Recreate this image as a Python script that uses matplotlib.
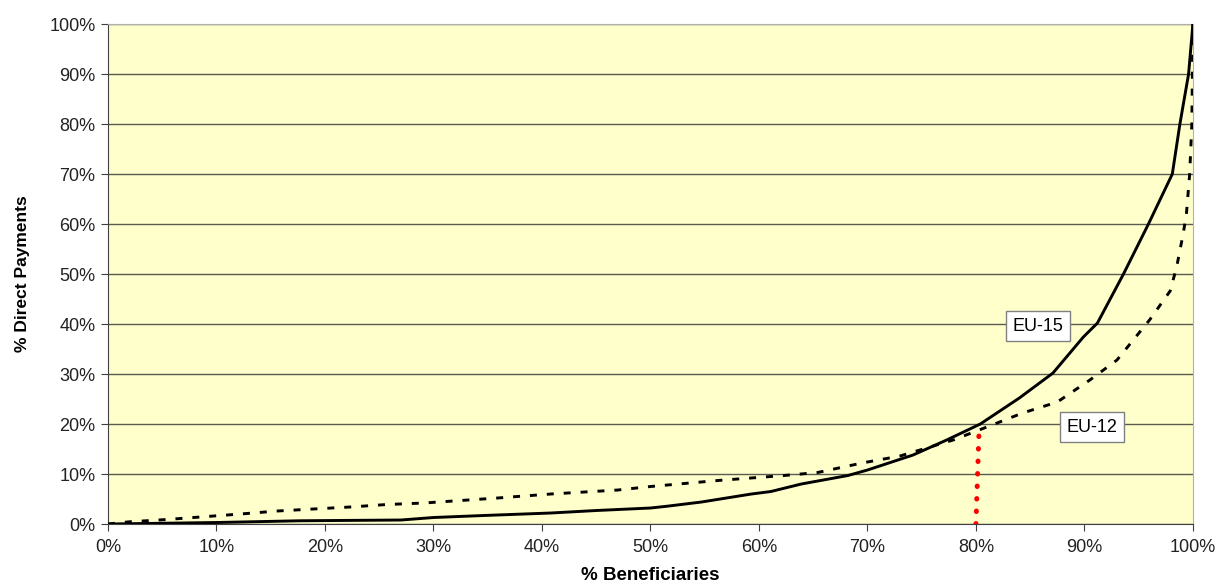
import matplotlib.pyplot as plt
from matplotlib.ticker import PercentFormatter

# EU-15 concentration curve (% beneficiaries vs % direct payments)
eu15_x = [0, 10, 17.7, 27, 30, 34.6, 40.8, 45, 50, 51.5, 54.7, 59.3, 61.1, 63.9, 68.2,
          70, 74.2, 77.3, 80.4, 84, 87.1, 89.9, 91.2, 93.6, 95.9, 98.1, 98.8, 99.6, 100]
eu15_y = [0, 0.3, 0.65, 0.8, 1.3, 1.7, 2.2, 2.7, 3.2, 3.55, 4.4, 6.0, 6.5, 8.0, 9.7,
          10.8, 13.8, 16.8, 20, 25.2, 30.2, 37.4, 40.2, 50, 60, 70, 80, 90, 100]

# EU-12 concentration curve
eu12_x = [0, 2, 5.4, 8.8, 12.2, 15.6, 18.9, 22.3, 25.7, 29.1, 32.5, 35.9, 37.7, 40.8,
          47, 50, 56.2, 62.3, 65.4, 69.5, 73, 77.9, 81, 84.3, 87.5, 90.5, 93, 96, 97.9,
          98.5, 99.1, 99.4, 99.7, 99.9, 100]
eu12_y = [0, 0.45, 0.9, 1.45, 2, 2.6, 3, 3.4, 3.9, 4.2, 4.7, 5.2, 5.5, 6, 6.8, 7.5,
          8.7, 9.7, 10.3, 12.2, 13.6, 16.8, 19.4, 22.2, 24.4, 28.8, 32.8, 40.8, 46.6,
          51.4, 58, 62, 70, 80, 100]

# red marker: 80% of beneficiaries
marker_x = [80, 80.3]
marker_y = [0, 19.5]

plt.rcParams['font.family'] = ['Liberation Sans', 'DejaVu Sans']

fig = plt.figure(figsize=(12.19, 5.87), dpi=100)
ax = fig.add_axes([0.0886, 0.1073, 0.89, 0.8517])
ax.set_facecolor('#FFFFCC')

ax.plot(eu15_x, eu15_y, color='black', lw=2.1, zorder=3)
ax.plot(eu12_x, eu12_y, color='black', lw=2.1, linestyle=(0, (2.4, 3.4)), zorder=3)
ax.plot(marker_x, marker_y, color='red', lw=3.6, linestyle=(0, (0.1, 2.4)),
        dash_capstyle='round', zorder=4)

ax.set_xlim(0, 100)
ax.set_ylim(0, 100)
ax.set_xticks(range(0, 101, 10))
ax.set_yticks(range(0, 101, 10))
ax.xaxis.set_major_formatter(PercentFormatter(decimals=0))
ax.yaxis.set_major_formatter(PercentFormatter(decimals=0))
ax.tick_params(labelsize=13, length=5, color='#404040', labelcolor='#222222')
ax.tick_params(axis='x', pad=6)
ax.tick_params(axis='y', pad=4)

ax.yaxis.grid(True, color='#5a5a50', lw=1.0)
ax.set_axisbelow(True)

for side in ['top', 'right']:
    ax.spines[side].set_color('#b0b0b0')
for side in ['left', 'bottom']:
    ax.spines[side].set_color('#404040')

ax.set_xlabel('% Beneficiaries', fontsize=13.5, fontweight='bold', labelpad=8)
ax.set_ylabel('% Direct Payments', fontsize=12.5, fontweight='bold', labelpad=14)

box = dict(boxstyle='square,pad=0.35', facecolor='white', edgecolor='#808080', lw=1)
ax.text(85.7, 39.6, 'EU-15', fontsize=13, ha='center', va='center', bbox=box, zorder=5)
ax.text(90.7, 19.4, 'EU-12', fontsize=13, ha='center', va='center', bbox=box, zorder=5)

fig.savefig('out.png', dpi=100)
